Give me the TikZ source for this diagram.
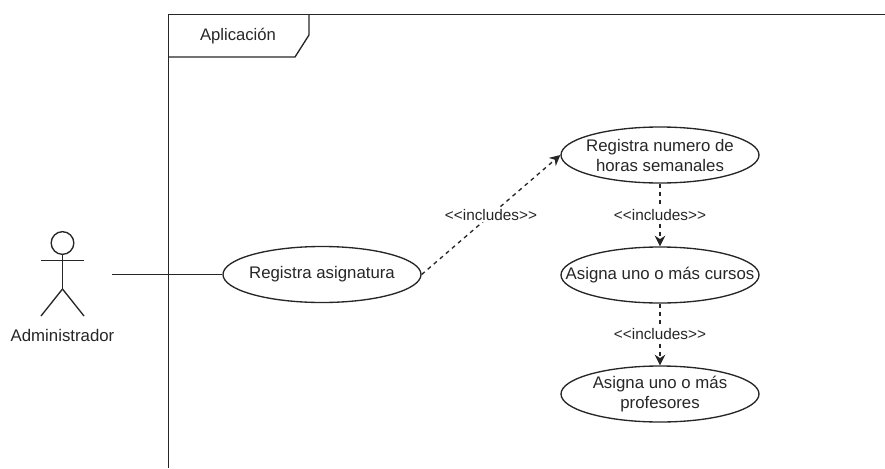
\documentclass[tikz,border=0pt]{standalone}
\usepackage{fontspec}
\setmainfont{Liberation Sans}
\usetikzlibrary{arrows.meta,shapes.geometric}
\tikzset{
  usecase/.style={draw, ellipse, inner xsep=-20pt, inner ysep=0pt, minimum width=148.5pt, minimum height=42pt, align=center, font=\fontsize{12.6}{15}\selectfont},
  incl/.style={draw, dashed, dash pattern=on 3pt off 3pt, -{Stealth[length=8pt,width=8pt]}},
  incllabel/.style={fill=white, inner sep=1pt, font=\fontsize{11.5}{13}\selectfont},
}
\begin{document}
\begin{tikzpicture}[x=0.75pt, y=-0.75pt, line width=1pt, color={black!85}]
\useasboundingbox (0,0) rectangle (885,468);

% frame
\draw (885,14.5) -- (168.5,14.5) -- (168.5,468);
\draw (309,14.5) -- (309,35) -- (295,57) -- (168.5,57);
\node [font=\fontsize{12.5}{15}\selectfont] (frametitle) at (238,36) {Aplicación};

% actor
\node [draw, circle, minimum size=17pt, inner sep=0pt] (head) at (62.5,243) {};
\path (62.5,289) coordinate (hip);
\draw (head) -- (hip);
\draw (41,260.5) -- (84,260.5);
\draw (41,316) -- (hip) -- (84,316);
\node [font=\fontsize{12.6}{15}\selectfont] (admin) at (62.5,335) {Administrador};
\path (112,274.5) coordinate (actor);

% use cases
\node [usecase] (asignatura) at (322,274.5) {Registra asignatura};
\node [usecase] (horas) at (660,155) {Registra numero de\\horas semanales};
\node [usecase] (cursos) at (660,275) {Asigna uno o más cursos};
\node [usecase] (profesores) at (660,394) {Asigna uno o más\\profesores};

\draw (actor) -- (asignatura.west);
\draw [incl] (asignatura.east) -- (horas.west) node[midway, incllabel]{<{}<includes>{}>};
\draw [incl] (horas) -- (cursos) node[midway, incllabel]{<{}<includes>{}>};
\draw [incl] (cursos) -- (profesores) node[midway, incllabel]{<{}<includes>{}>};

\end{tikzpicture}
\end{document}
